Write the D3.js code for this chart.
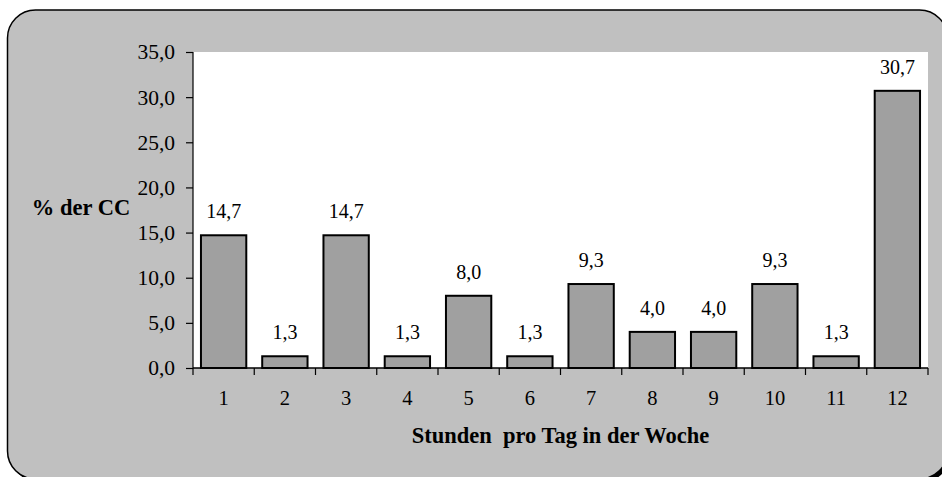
<!DOCTYPE html>
<html>
<head>
<meta charset="utf-8">
<script src="https://cdn.jsdelivr.net/npm/d3@7"></script>
<style>
  body { margin: 0; background: #fff; overflow: hidden; }
</style>
</head>
<body>
<div class="chart"></div>
<script>
const categories = ['1', '2', '3', '4', '5', '6', '7', '8', '9', '10', '11', '12'];
const values = [14.7, 1.3, 14.7, 1.3, 8.0, 1.3, 9.3, 4.0, 4.0, 9.3, 1.3, 30.7];
const yTicks = [0, 5, 10, 15, 20, 25, 30, 35];
const yAxisLabel = '% der CC';
const xAxisLabel = 'Stunden\u00a0 pro Tag in der Woche';

const width = 942, height = 477;
const plot = {left: 193, right: 928, top: 52, bottom: 368};
const serif = "'Liberation Serif', 'Times New Roman', Times, serif";
const fmt = v => v.toFixed(1).replace('.', ',');

const svg = d3.select('.chart').append('svg')
  .attr('width', width)
  .attr('height', height)
  .style('display', 'block')
  .attr('font-family', serif);

// shadow + rounded frame (right and bottom edges run just past the page)
svg.append('rect')
  .attr('x', 10.5).attr('y', 13).attr('width', 940).attr('height', 469)
  .attr('rx', 28).attr('fill', '#000');
svg.append('rect')
  .attr('x', 7.5).attr('y', 10).attr('width', 940).attr('height', 469)
  .attr('rx', 28).attr('fill', '#c0c0c0')
  .attr('stroke', '#000').attr('stroke-width', 1.5);

// white plot area
svg.append('rect')
  .attr('x', plot.left).attr('y', plot.top)
  .attr('width', plot.right - plot.left).attr('height', plot.bottom - plot.top)
  .attr('fill', '#fff');

const xScale = d3.scaleBand()
  .domain(categories)
  .range([plot.left, plot.right])
  .paddingInner(0.26)
  .paddingOuter(0.13);

const yScale = d3.scaleLinear()
  .domain([0, 35])
  .range([plot.bottom, plot.top]);

// bars
svg.selectAll('rect.bar')
  .data(values)
  .enter().append('rect')
    .attr('class', 'bar')
    .attr('x', (d, i) => xScale(categories[i]))
    .attr('y', d => yScale(d))
    .attr('width', xScale.bandwidth())
    .attr('height', d => yScale(0) - yScale(d))
    .attr('fill', '#a0a0a0')
    .attr('stroke', '#000')
    .attr('stroke-width', 2);

// value labels
svg.selectAll('text.val')
  .data(values)
  .enter().append('text')
    .attr('class', 'val')
    .attr('x', (d, i) => xScale(categories[i]) + xScale.bandwidth() / 2)
    .attr('y', d => yScale(d) - 17)
    .attr('text-anchor', 'middle')
    .attr('font-size', 20)
    .text(d => fmt(d));

// y axis
const yAxis = d3.axisLeft(yScale).tickValues(yTicks).tickFormat(fmt).tickSize(7).tickPadding(11);
const gy = svg.append('g')
  .attr('transform', `translate(${plot.left},0)`)
  .call(yAxis)
  .attr('font-family', serif)
  .attr('font-size', 21.5);
gy.select('.domain').attr('stroke', '#000').attr('stroke-width', 1.2).attr('d', `M0,${plot.top}V${plot.bottom}`);
gy.selectAll('.tick line').attr('stroke', '#000').attr('stroke-width', 1.2);
gy.selectAll('.tick text').attr('fill', '#000');

// x axis: ticks at category boundaries
const boundaries = d3.range(categories.length + 1).map(i => plot.left + i * (plot.right - plot.left) / categories.length);
svg.append('line')
  .attr('x1', plot.left).attr('x2', plot.right)
  .attr('y1', plot.bottom).attr('y2', plot.bottom)
  .attr('stroke', '#000').attr('stroke-width', 1.5);
svg.selectAll('line.xt')
  .data(boundaries)
  .enter().append('line')
    .attr('class', 'xt')
    .attr('x1', d => d).attr('x2', d => d)
    .attr('y1', plot.bottom).attr('y2', plot.bottom + 7)
    .attr('stroke', '#000').attr('stroke-width', 1.2);
svg.selectAll('text.xl')
  .data(categories)
  .enter().append('text')
    .attr('class', 'xl')
    .attr('x', d => xScale(d) + xScale.bandwidth() / 2)
    .attr('y', 405)
    .attr('text-anchor', 'middle')
    .attr('font-size', 20.5)
    .text(d => d);

// axis titles
svg.append('text')
  .attr('x', 81).attr('y', 215)
  .attr('text-anchor', 'middle')
  .attr('font-size', 22.5).attr('font-weight', 'bold')
  .text(yAxisLabel);

svg.append('text')
  .attr('x', (plot.left + plot.right) / 2).attr('y', 443)
  .attr('text-anchor', 'middle')
  .attr('font-size', 22.5).attr('font-weight', 'bold')
  .text(xAxisLabel);
</script>
</body>
</html>
